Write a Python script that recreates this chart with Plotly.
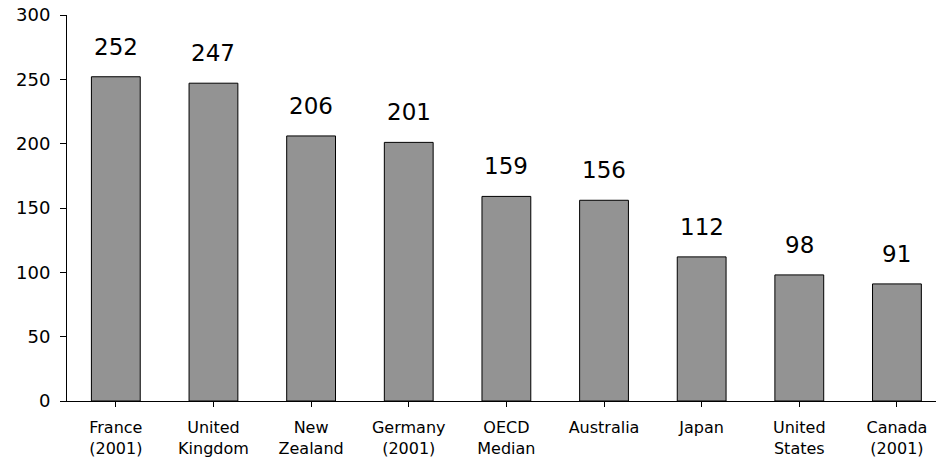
import plotly.graph_objects as go

categories = ["France<br>(2001)", "United<br>Kingdom", "New<br>Zealand", "Germany<br>(2001)",
              "OECD<br>Median", "Australia", "Japan", "United<br>States", "Canada<br>(2001)"]
values = [252, 247, 206, 201, 159, 156, 112, 98, 91]
y_ticks = [0, 50, 100, 150, 200, 250, 300]

FONT = "DejaVu Sans"
x_idx = list(range(len(categories)))

fig = go.Figure()
fig.add_trace(go.Bar(
    x=x_idx, y=values,
    marker=dict(color="#939393", line=dict(color="#000000", width=1)),
    width=0.5,
    hoverinfo="skip",
))

for xi, v in zip(x_idx, values):
    fig.add_annotation(x=xi, y=v, text=str(v), showarrow=False,
                       yanchor="middle", yshift=30,
                       font=dict(family=FONT, size=23, color="#000000"))

fig.update_layout(
    width=936, height=463,
    margin=dict(l=67, r=0, t=15, b=62),
    plot_bgcolor="white", paper_bgcolor="white",
    showlegend=False,
    font=dict(family=FONT, color="#000000"),
    xaxis=dict(
        range=[-0.5, 8.4],
        tickmode="array", tickvals=x_idx, ticktext=categories,
        tickson="boundaries",
        ticks="outside", ticklen=5, tickcolor="#000000",
        showline=True, linecolor="#000000", linewidth=1,
        showgrid=False, zeroline=False,
        tickfont=dict(family=FONT, size=16, color="#000000"),
        ticklabelstandoff=7,
        automargin=False,
    ),
    yaxis=dict(
        range=[0, 300],
        tickmode="array", tickvals=y_ticks,
        ticks="outside", ticklen=6, tickcolor="#000000",
        showline=True, linecolor="#000000", linewidth=1,
        showgrid=False, zeroline=False,
        tickfont=dict(family=FONT, size=18, color="#000000"),
        ticklabelstandoff=6,
        ticklabeloverflow="allow",
        automargin=False,
    ),
)

fig.write_html("out.html", config={"displayModeBar": False, "staticPlot": True},
               post_script="document.body.style.margin='0';document.body.style.overflow='hidden';")
